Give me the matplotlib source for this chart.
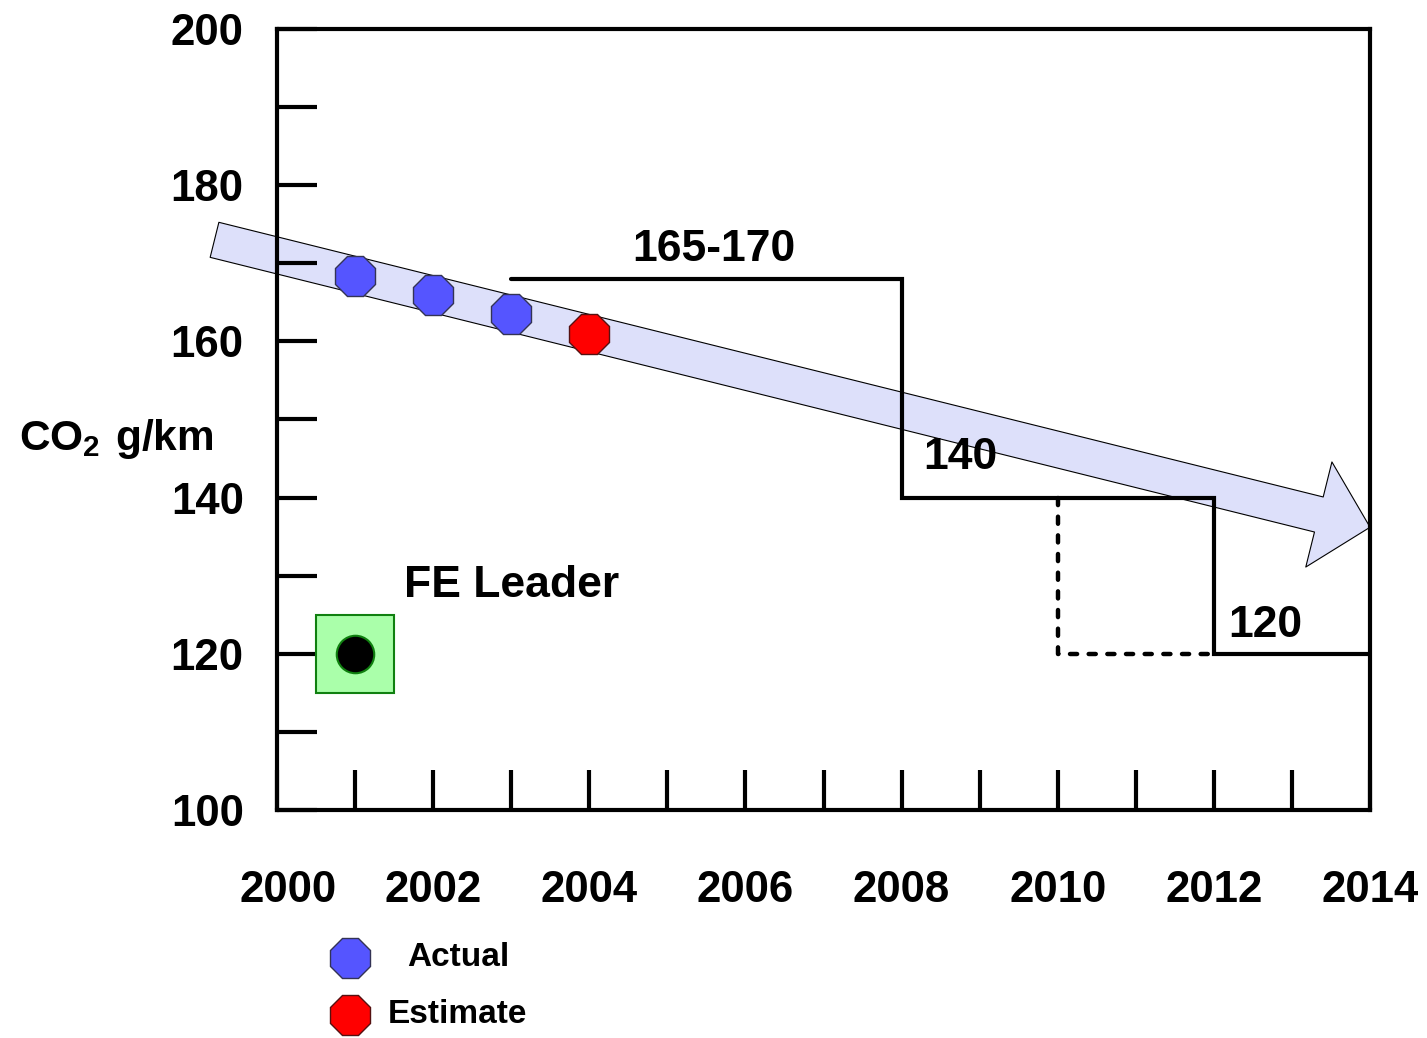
import matplotlib
matplotlib.use('Agg')
import matplotlib.pyplot as plt
import matplotlib.transforms as mtransforms
from matplotlib.patches import FancyArrowPatch, Rectangle

plt.rcParams['font.family'] = ['Liberation Sans', 'DejaVu Sans']
plt.rcParams['font.weight'] = 'bold'
plt.rcParams['mathtext.fontset'] = 'custom'
plt.rcParams['mathtext.bf'] = 'Liberation Sans:bold'
plt.rcParams['mathtext.rm'] = 'Liberation Sans:bold'

# data
actual_years = [2001, 2002, 2003]
actual_co2 = [168.4, 165.9, 163.5]
estimate_years = [2004]
estimate_co2 = [161.0]

target_years = [2003, 2008, 2008, 2012, 2012, 2014]
target_co2 = [168, 168, 140, 140, 120, 120]
alt_years = [2010, 2010, 2012]
alt_co2 = [140, 120, 120]

trend_start = (1999.2, 173.0)
trend_end = (2014.0, 136.2)

leader_year = 2001
leader_co2 = 120

year_ticks = list(range(2000, 2015))
co2_ticks = list(range(100, 201, 10))

fig = plt.figure(figsize=(14.27, 10.38), dpi=100)
ax = fig.add_axes([0.1941, 0.2197, 0.7660, 0.7524])
ax.set_xlim(2000, 2014)
ax.set_ylim(100, 200)

# trend arrow
arrow = FancyArrowPatch(trend_start, trend_end, transform=ax.transData,
                        arrowstyle='simple,head_width=78,head_length=38,tail_width=26',
                        mutation_scale=1, shrinkA=0, shrinkB=0,
                        facecolor='#dde0fa', edgecolor='black', linewidth=0.8,
                        clip_on=False, zorder=1)
ax.add_patch(arrow)

# target steps
ax.plot(target_years, target_co2, color='black', lw=3, solid_capstyle='round',
        solid_joinstyle='miter', zorder=3)
ax.plot(alt_years, alt_co2, color='black', lw=3.2, dashes=(1.6, 2.6),
        dash_capstyle='round', zorder=3)

# points
ax.plot(actual_years, actual_co2, ls='none', marker='8', ms=31,
        mfc='#5555ff', mec='#333355', mew=1, zorder=4)
ax.plot(estimate_years, estimate_co2, ls='none', marker='8', ms=31,
        mfc='#ff0000', mec='#551111', mew=1, zorder=4)

# FE leader
ax.add_patch(Rectangle((leader_year - 0.5, leader_co2 - 5), 1.0, 10,
                       facecolor='#aaffaa', edgecolor='#108010', lw=1.5, zorder=2))
ax.plot([leader_year], [leader_co2], marker='o', ms=27, mfc='black', mec='#108010',
        mew=1.5, zorder=3)

ax.text(2005.6, 171.7, '165-170', fontsize=32, fontweight='bold', ha='center', va='center')
ax.text(2008.75, 145.1, '140', fontsize=32, fontweight='bold', ha='center', va='center')
ax.text(2012.66, 123.6, '120', fontsize=32, fontweight='bold', ha='center', va='center')
ax.text(2003.0, 128.7, 'FE Leader', fontsize=32, fontweight='bold', ha='center', va='center')

# axes styling
for s in ax.spines.values():
    s.set_linewidth(3)
    s.set_zorder(5)
ax.set_xticks(year_ticks)
ax.set_xticklabels([str(y) if y % 2 == 0 else '' for y in year_ticks])
ax.set_yticks(co2_ticks)
ax.set_yticklabels([str(v) if v % 20 == 0 else '' for v in co2_ticks])
ax.tick_params(axis='both', direction='in', length=29, width=3, labelsize=31.5)
ax.tick_params(axis='x', pad=43)
ax.tick_params(axis='y', pad=24)
for lab in ax.get_xticklabels() + ax.get_yticklabels():
    lab.set_fontweight('bold')
# first year label sits a little to the right in the original
first = ax.get_xticklabels()[0]
first.set_transform(first.get_transform() +
                    mtransforms.ScaledTranslation(11 / 100, 0, fig.dpi_scale_trans))

fig.text(0.0815, 0.577, r'$\mathbf{CO_2\ g/km}$', fontsize=30.5, ha='center', va='center')

# legend
fig.lines.append(plt.Line2D([0.2453], [0.0771], transform=fig.transFigure, ls='none',
                            marker='8', ms=31, mfc='#5555ff', mec='#333355', mew=1))
fig.lines.append(plt.Line2D([0.2453], [0.0222], transform=fig.transFigure, ls='none',
                            marker='8', ms=31, mfc='#ff0000', mec='#551111', mew=1))
fig.text(0.2852, 0.0771, 'Actual', fontsize=24, fontweight='bold', va='center')
fig.text(0.2719, 0.0222, 'Estimate', fontsize=24, fontweight='bold', va='center')

fig.savefig('out.png', dpi=100)
